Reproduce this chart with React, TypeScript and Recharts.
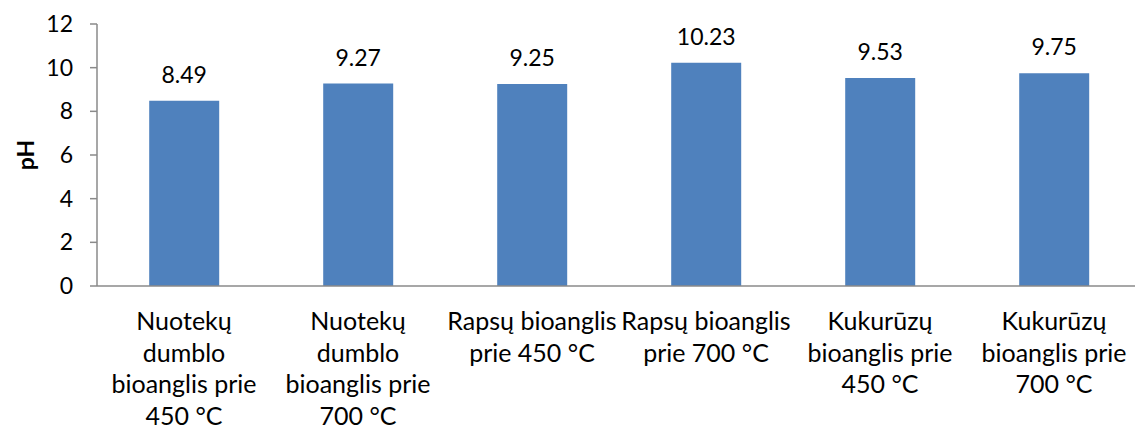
import { BarChart, Bar, XAxis, YAxis, LabelList } from "recharts";

const categories = [
  "Nuotekų\ndumblo\nbioanglis prie\n450 °C",
  "Nuotekų\ndumblo\nbioanglis prie\n700 °C",
  "Rapsų bioanglis\nprie 450 °C",
  "Rapsų bioanglis\nprie 700 °C",
  "Kukurūzų\nbioanglis prie\n450 °C",
  "Kukurūzų\nbioanglis prie\n700 °C",
];
const phValues = [8.49, 9.27, 9.25, 10.23, 9.53, 9.75];
const yTicks = [0, 2, 4, 6, 8, 10, 12];

const data = categories.map((name, i) => ({ name, ph: phValues[i] }));

const FONT = "Lato, 'Noto Sans', sans-serif";

function CategoryTick(props: any) {
  const { x, y, payload } = props;
  const lines = String(payload.value).split("\n");
  return (
    <text
      x={x}
      y={y}
      textAnchor="middle"
      fontFamily={FONT}
      fontSize={25}
      fill="#000"
    >
      {lines.map((line, i) => (
        <tspan key={i} x={x} dy={i === 0 ? 36 : 31.5}>
          {line}
        </tspan>
      ))}
    </text>
  );
}

export default function App() {
  return (
    <div
      style={{
        position: "absolute",
        left: 0,
        top: 0,
        width: 1135,
        height: 429,
        overflow: "hidden",
        background: "#fff",
      }}
    >
      <BarChart
        width={1141}
        height={429}
        data={data}
        margin={{ top: 24, right: 0, left: 0, bottom: 0 }}
        barCategoryGap="30%"
      >
        <XAxis
          dataKey="name"
          tick={<CategoryTick />}
          tickLine={false}
          axisLine={{ stroke: "#8a8a8a", strokeWidth: 1.5 }}
          height={143}
          interval={0}
        />
        <YAxis
          domain={[0, 12]}
          ticks={yTicks}
          width={97}
          tickSize={7}
          tickMargin={17}
          tick={{ fontFamily: FONT, fontSize: 23, fill: "#000" }}
          axisLine={{ stroke: "#8a8a8a", strokeWidth: 1.5 }}
          tickLine={{ stroke: "#8a8a8a", strokeWidth: 1.5 }}
          label={{
            value: "pH",
            angle: -90,
            position: "center",
            dx: -23,
            fontFamily: FONT,
            fontSize: 23,
            fontWeight: "bold",
            fill: "#000",
          }}
        />
        <Bar dataKey="ph" fill="#4F81BD" isAnimationActive={false}>
          <LabelList
            dataKey="ph"
            position="top"
            offset={18}
            fontFamily={FONT}
            fontSize={23}
            fill="#000"
          />
        </Bar>
      </BarChart>
    </div>
  );
}
